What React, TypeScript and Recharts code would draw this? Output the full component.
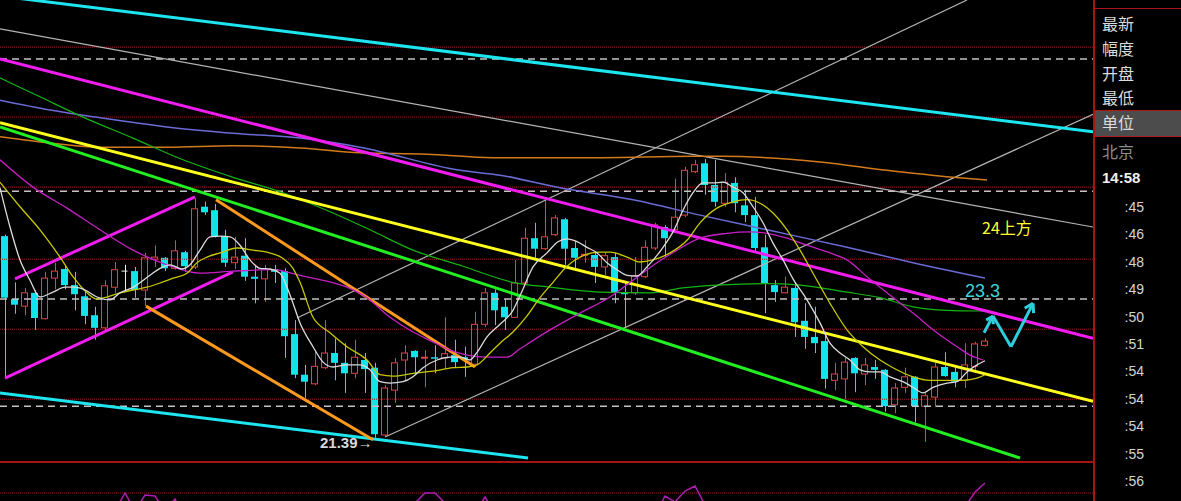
import React from 'react';
import { Bar, ComposedChart, Line, LineChart, ReferenceLine, XAxis, YAxis } from 'recharts';

// daily candles, index 0..98
const opens = [
  24.27, 23.37, 23.27, 23.46, 23.09, 23.67, 23.8, 23.57, 23.41, 23.14,
  22.96, 23.54, 23.77, 23.77, 23.5, 23.94, 23.96, 23.81, 24.04, 23.83,
  24.69, 24.64, 24.27, 23.89, 23.99, 23.69, 23.66, 23.8, 23.77, 22.87,
  22.29, 22.16, 22.39, 22.6, 22.46, 22.31, 22.5, 22.39, 21.43, 22.07,
  22.5, 22.63, 22.53, 22.54, 22.53, 22.57, 22.54, 22.44, 23.01, 23.46,
  23.26, 23.11, 23.6, 24.24, 24.09, 24.29, 24.51, 24.1, 24.0, 24.0,
  23.83, 23.97, 23.47, 23.46, 23.69, 24.1, 24.4, 24.36, 24.57, 25.19,
  25.31, 25.0, 24.74, 25.03, 24.71, 24.57, 24.11, 23.57, 23.46, 23.53,
  23.06, 22.83, 22.77, 22.21, 22.23, 22.53, 22.3, 22.4, 22.36, 21.86,
  22.11, 22.26, 21.84, 21.97, 22.4, 22.33, 22.21, 22.41, 22.71
];
const closes = [
  23.39, 23.29, 23.46, 23.1, 23.67, 23.77, 23.57, 23.44, 23.13, 22.96,
  23.56, 23.79, 23.77, 23.5, 23.96, 23.97, 23.81, 24.06, 23.84, 24.66,
  24.61, 24.26, 23.89, 23.97, 23.69, 23.66, 23.8, 23.76, 22.84, 22.29,
  22.19, 22.41, 22.6, 22.46, 22.31, 22.54, 22.37, 21.44, 22.1, 22.46,
  22.6, 22.54, 22.54, 22.53, 22.59, 22.47, 22.5, 23.01, 23.46, 23.21,
  23.11, 23.6, 24.24, 24.09, 24.26, 24.53, 24.09, 23.96, 24.01, 23.83,
  23.99, 23.46, 23.44, 23.7, 24.11, 24.43, 24.24, 24.54, 25.21, 25.29,
  25.0, 24.76, 25.04, 24.74, 24.57, 24.1, 23.6, 23.47, 23.54, 23.04,
  22.83, 22.74, 22.23, 22.3, 22.47, 22.31, 22.43, 22.36, 21.84, 22.1,
  22.26, 21.84, 21.99, 22.4, 22.27, 22.19, 22.43, 22.73, 22.77
];
const highs = [
  24.29, 23.61, 23.53, 23.5, 23.76, 23.89, 23.86, 23.76, 23.5, 23.26,
  23.64, 23.9, 23.86, 23.83, 24.03, 24.14, 23.97, 24.21, 24.06, 24.81,
  24.76, 24.73, 24.36, 24.26, 24.24, 23.86, 23.86, 23.86, 23.81, 23.07,
  22.43, 22.64, 23.07, 22.81, 22.74, 22.79, 22.6, 22.46, 22.14, 22.53,
  22.71, 22.64, 22.64, 22.71, 23.11, 22.79, 22.69, 23.19, 23.53, 23.51,
  23.37, 23.93, 24.39, 24.46, 24.79, 24.57, 24.53, 24.2, 24.21, 24.04,
  24.04, 24.03, 23.6, 23.97, 24.21, 24.46, 24.43, 25.09, 25.26, 25.36,
  25.37, 25.36, 25.17, 25.11, 24.93, 24.83, 24.29, 23.64, 23.69, 23.6,
  23.31, 23.26, 22.9, 22.46, 22.53, 22.54, 22.53, 22.5, 22.37, 22.17,
  22.39, 22.27, 22.03, 22.46, 22.61, 22.4, 22.74, 22.76, 22.81
];
const lows = [
  22.24, 23.16, 23.14, 22.93, 23.08, 23.51, 23.51, 23.21, 23.01, 22.79,
  22.93, 23.46, 23.5, 23.39, 23.27, 23.83, 23.77, 23.79, 23.76, 23.8,
  24.57, 24.25, 23.83, 23.8, 23.63, 23.31, 23.33, 23.6, 22.53, 22.24,
  21.96, 22.14, 22.37, 22.21, 22.03, 22.24, 22.03, 21.39, 21.41, 21.89,
  22.21, 22.29, 22.11, 22.31, 22.37, 22.4, 22.26, 22.4, 22.97, 23.0,
  22.93, 23.1, 23.59, 23.96, 24.07, 24.27, 23.86, 23.79, 23.89, 23.6,
  23.71, 23.31, 22.97, 23.43, 23.67, 24.07, 23.97, 24.33, 24.54, 25.17,
  24.86, 24.69, 24.69, 24.61, 24.47, 24.03, 23.17, 23.33, 23.45, 22.83,
  22.66, 22.6, 22.09, 22.07, 21.94, 22.04, 22.14, 22.23, 21.76, 21.74,
  22.03, 21.61, 21.33, 21.83, 22.26, 22.11, 22.1, 22.36, 22.69
];

// moving averages: [index, price]
const ma5 = [
  [-0.5, 24.96], [0.5, 24.4], [1.5, 23.93], [2.5, 23.64], [3.5, 23.4], [4.8, 23.47], [6, 23.54], [7, 23.54],
  [8, 23.5], [9.2, 23.4], [10.5, 23.36], [11.5, 23.46], [12.7, 23.53], [14.5, 23.71], [15.5, 23.81], [16.5, 23.86],
  [17.7, 23.8], [18.5, 23.86], [19.5, 24.07], [20.5, 24.26], [21.5, 24.27], [22.5, 24.26], [23.5, 24.14], [24.5, 23.93],
  [25.5, 23.81], [26.5, 23.8], [27.5, 23.74], [28.5, 23.43], [29.5, 23.03], [30.8, 22.69], [31.8, 22.47], [32.8, 22.4],
  [34.2, 22.43], [35.5, 22.43], [36.5, 22.36], [37.5, 22.19], [38.5, 22.17], [39.8, 22.19], [40.8, 22.26], [41.8, 22.39],
  [43.2, 22.5], [44.5, 22.54], [45.5, 22.54], [46.5, 22.5], [47.2, 22.61], [48.2, 22.83], [49.5, 23.01], [50.8, 23.21],
  [51.6, 23.45], [52.8, 23.83], [54.2, 24.03], [55.3, 24.19], [56.2, 24.23], [57.2, 24.19], [58.2, 24.11], [59.2, 24.03],
  [60.2, 23.89], [61.2, 23.79], [62.2, 23.71], [63.2, 23.7], [64.2, 23.83], [65.8, 24.11], [66.8, 24.33], [67.8, 24.64],
  [68.8, 24.89], [69.8, 25.03], [70.8, 25.03], [71.8, 25.04], [72.8, 24.97], [73.8, 24.89], [74.8, 24.69], [75.8, 24.46],
  [76.8, 24.17], [77.8, 23.93], [78.8, 23.66], [80.2, 23.36], [81.5, 23.03], [82.5, 22.74], [83.5, 22.6], [84.5, 22.5],
  [85.5, 22.36], [86.5, 22.33], [87.5, 22.33], [88.5, 22.26], [89.8, 22.19], [90.8, 22.11], [91.8, 22.03], [92.8, 22.11],
  [94.2, 22.17], [95.2, 22.19], [96.2, 22.33], [97.2, 22.43], [98, 22.49]
];
const ma10 = [
  [-0.5, 25.04], [1.5, 24.69], [3.5, 24.36], [5.5, 23.97], [6.8, 23.69], [8.2, 23.46], [9.2, 23.37], [10.2, 23.4],
  [11.5, 23.46], [12.8, 23.5], [14.2, 23.54], [15.5, 23.6], [16.8, 23.67], [18.2, 23.74], [19.2, 23.89], [20.2, 23.97],
  [21.5, 24.03], [23.2, 24.1], [24.8, 24.07], [26.2, 24.04], [27.7, 23.96], [28.8, 23.81], [29.5, 23.61], [30.8, 23.11],
  [32.5, 22.89], [34.2, 22.69], [36.2, 22.5], [37.5, 22.29], [38.8, 22.27], [40.8, 22.31], [42.8, 22.34], [44.8, 22.39],
  [46.2, 22.4], [47.2, 22.43], [48.5, 22.6], [49.5, 22.74], [50.8, 22.9], [52.2, 23.13], [53.5, 23.39], [54.8, 23.61],
  [56.2, 23.84], [57.5, 23.97], [59.5, 24.04], [60.5, 24.04], [62.2, 23.97], [63.5, 23.9], [64.8, 23.93], [66.5, 24.03],
  [68.2, 24.21], [69.5, 24.46], [71.2, 24.67], [72.8, 24.76], [74.2, 24.79], [75.5, 24.74], [76.8, 24.6], [78.2, 24.36],
  [79.5, 24.07], [80.8, 23.74], [82.5, 23.31], [84.2, 22.93], [85.8, 22.69], [87.5, 22.5], [88.8, 22.39], [90.8, 22.26],
  [92.5, 22.21], [94.2, 22.21], [95.8, 22.21], [97.2, 22.24], [98, 22.29]
];
const ma20 = [
  [-0.5, 25.36], [2.8, 24.97], [6.2, 24.67], [9.5, 24.36], [12.8, 24.07], [16.2, 23.86], [19.5, 23.74], [22.8, 23.77],
  [26.8, 23.79], [29.5, 23.71], [30.8, 23.67], [34.2, 23.54], [36.2, 23.39], [38.5, 23.11], [40.8, 22.9], [42.8, 22.76],
  [44.5, 22.64], [46.2, 22.57], [48.2, 22.54], [50.2, 22.54], [51.5, 22.66], [54.5, 22.93], [57.5, 23.17], [60.5, 23.4],
  [62.8, 23.64], [65.2, 23.89], [67.2, 24.07], [69.5, 24.24], [72.2, 24.31], [74.5, 24.33], [76.2, 24.31], [78.2, 24.24],
  [80.2, 24.14], [82.5, 24.03], [84.2, 23.93], [86.2, 23.69], [88.2, 23.46], [90.8, 23.17], [93.2, 22.89], [95.2, 22.69],
  [96.5, 22.57], [97.8, 22.5]
];
const ma60 = [
  [-0.5, 26.53], [3.5, 26.26], [7.8, 25.97], [12.8, 25.67], [17.8, 25.36], [22.8, 25.11], [27.8, 24.89], [32.8, 24.6],
  [36.5, 24.36], [40.8, 24.07], [45.8, 23.84], [50.8, 23.61], [54.5, 23.54], [59.5, 23.47], [64.5, 23.46], [67.8, 23.53],
  [71.2, 23.57], [76.2, 23.59], [79.5, 23.57], [84.2, 23.47], [87.5, 23.39], [90.8, 23.26], [94.2, 23.21], [97.8, 23.2]
];
const ma120 = [
  [-0.5, 26.21], [4.5, 26.07], [9.5, 25.96], [16.2, 25.83], [22.8, 25.74], [29.5, 25.67], [35.5, 25.54], [45.5, 25.21],
  [49.5, 25.14], [55.5, 24.96], [62.8, 24.79], [69.5, 24.57], [76.2, 24.36], [84.2, 24.11], [90.8, 23.89], [98, 23.67]
];
const ma250 = [
  [-0.5, 25.69], [4.5, 25.6], [9.5, 25.54], [16.2, 25.54], [22.8, 25.56], [29.5, 25.53], [35.5, 25.46], [42.2, 25.44],
  [48.8, 25.39], [58.8, 25.39], [68.8, 25.41], [71.5, 25.41], [81.5, 25.33], [88.2, 25.21], [94.8, 25.11], [98.2, 25.07]
];

// sub-panel indicator (mostly below the visible strip)
const subValues = [
  [0, 55], [11, 62], [12, 80], [13, 62], [14, 78], [15, 77], [16, 62], [17, 74], [18, 55], [41, 70], [42, 80],
  [43, 80], [44, 70], [47, 60], [48, 76], [49, 60], [65, 58], [66, 77], [67, 71], [68, 82], [69, 87], [70, 68],
  [71, 55], [96, 66], [97, 81], [98, 90]
];

// hand-drawn trend lines: [[index, price], [index, price]]
const cyanTop = [[-0.5, 27.7], [108.8, 25.76]];
const cyanBottom = [[-0.5, 22.03], [52.3, 21.1]];
const magentaLong = [[-0.5, 26.8], [108.8, 22.81]];
const yellowLong = [[-0.5, 25.89], [108.8, 21.91]];
const greenLong = [[-0.5, 25.83], [101.5, 21.1]];
const channelTop = [[1, 23.66], [19, 24.83]];
const channelBottom = [[0, 22.24], [22.8, 23.76]];
const orangeUpper = [[21.1, 24.79], [47, 22.4]];
const orangeLower = [[14.1, 23.27], [36.8, 21.36]];
const grayRiseA = [[38, 21.4], [108.8, 26.01]];
const grayRiseB = [[29.2, 23.1], [96.2, 27.643]];
const grayFall = [[-0.5, 27.23], [108.8, 24.4]];
const forecastPath = [[97.9, 22.89], [98.8, 23.13], [100.6, 22.69], [102.8, 23.31]];
const forecastHeads = [
  [[98.8, 23.13], [98.12, 23.07]], [[98.8, 23.13], [98.83, 23.01]],
  [[102.8, 23.31], [101.97, 23.24]], [[102.8, 23.31], [102.86, 23.17]]
];

const dashedLevels = [26.8, 24.91, 23.37, 21.84];
const dottedLevels = [26.97, 25.97, 24.97, 23.94, 22.94, 21.94];

const quoteLabels = ['最新', '幅度', '开盘', '最低', '单位', '北京'];
const tickTimes = [':45', ':46', ':48', ':49', ':50', ':51', ':54', ':54', ':54', ':55', ':56'];

const candleData = opens.map((open, i) => ({ i, open, close: closes[i], high: highs[i], low: lows[i] }));
const pts = (arr: number[][]) => arr.map(([i, v]) => ({ i, v }));

const upColor = '#e8413f';
const downColor = '#12e4ee';
const gridRed = '#9a1c1c';
const xDomain = [-0.5, 108.8];

function Candle(props: any) {
  const { x, y, width, height, payload } = props;
  if (x == null || y == null || !payload) return null;
  const { open, close, high, low } = payload;
  const top = Math.min(y, y + height);
  const span = Math.abs(height);
  const toY = (v: number) => (high === low ? top : top + ((high - v) / (high - low)) * span);
  const cx = Math.round(x + width / 2) + 0.5;
  const bt = Math.min(toY(open), toY(close));
  const bb = Math.max(toY(open), toY(close));
  const left = Math.round(x) + 0.5;
  const w = Math.round(width) - 1;
  if (open === close) {
    return (
      <g stroke="#f0f0f0">
        <line x1={cx} x2={cx} y1={toY(high)} y2={toY(low)} />
        <line x1={left} x2={left + w} y1={bt} y2={bt} />
      </g>
    );
  }
  if (close > open) {
    return (
      <g stroke={upColor}>
        <line x1={cx} x2={cx} y1={toY(high)} y2={bt} />
        <line x1={cx} x2={cx} y1={bb} y2={toY(low)} />
        <rect x={left} y={bt} width={w} height={Math.max(bb - bt, 1)} fill="#000" />
      </g>
    );
  }
  return (
    <g>
      <line x1={cx} x2={cx} y1={toY(high)} y2={toY(low)} stroke={downColor} />
      <rect x={left - 0.5} y={bt} width={w + 1} height={Math.max(bb - bt, 1.5)} fill={downColor} />
    </g>
  );
}

function seg(line: number[][], stroke: string, width: number, key: string) {
  return (
    <ReferenceLine
      key={key}
      xAxisId="m"
      segment={[{ x: line[0][0], y: line[0][1] }, { x: line[1][0], y: line[1][1] }]}
      stroke={stroke}
      strokeWidth={width}
      ifOverflow="visible"
    />
  );
}

function maLine(data: number[][], stroke: string, width: number) {
  return (
    <Line
      xAxisId="m"
      data={pts(data)}
      dataKey="v"
      type="monotone"
      stroke={stroke}
      strokeWidth={width}
      dot={false}
      activeDot={false}
      isAnimationActive={false}
    />
  );
}

const labelCenters = [23, 48, 73, 97, 122, 151];

export default function App() {
  return (
    <div style={{ position: 'relative', width: 1181, height: 501, background: '#000', overflow: 'hidden' }}>
      <style>{'body{margin:0;background:#000;}'}</style>
      <div style={{ position: 'absolute', left: 0, top: 0 }}>
        <ComposedChart width={1093} height={462} data={candleData} margin={{ top: 0, right: 0, bottom: 0, left: 0 }}>
          <XAxis xAxisId="c" dataKey="i" type="number" domain={xDomain} hide allowDataOverflow />
          <XAxis xAxisId="m" dataKey="i" type="number" domain={xDomain} hide allowDataOverflow />
          <YAxis type="number" domain={[21.043, 27.643]} hide allowDataOverflow />
          {dottedLevels.map((v) => (
            <ReferenceLine key={'d' + v} xAxisId="m" y={v} stroke={gridRed} strokeDasharray="1 1" />
          ))}
          {dashedLevels.map((v) => (
            <ReferenceLine key={'g' + v} xAxisId="m" y={v} stroke="#c4c4c4" strokeWidth={1.5} strokeDasharray="7 5" />
          ))}
          {seg(grayFall, '#b4b4b4', 1.2, 'gf')}
          {seg(grayRiseA, '#b4b4b4', 1.2, 'ga')}
          {seg(grayRiseB, '#b4b4b4', 1.2, 'gb')}
          {maLine(ma250, '#d27a1c', 1.5)}
          {maLine(ma120, '#6b6bd6', 1.5)}
          {maLine(ma60, '#14b414', 1.2)}
          {seg(cyanTop, '#1ee6f0', 3, 'ct')}
          {seg(cyanBottom, '#1ee6f0', 3, 'cb')}
          {seg(magentaLong, '#f01cf0', 3, 'ml')}
          {seg(greenLong, '#22ee22', 3, 'gl')}
          {seg(yellowLong, '#ffff1e', 3, 'yl')}
          {seg(channelTop, '#f01cf0', 3, 'pt')}
          {seg(channelBottom, '#f01cf0', 3, 'pb')}
          {seg(orangeUpper, '#ff9a1e', 3, 'ou')}
          {seg(orangeLower, '#ff9a1e', 3, 'ol')}
          <Bar xAxisId="c" dataKey={(d: any) => [d.low, d.high]} barSize={7} shape={<Candle />} isAnimationActive={false} />
          {maLine(ma20, '#c420c4', 1.3)}
          {maLine(ma10, '#c8c800', 1.3)}
          {maLine(ma5, '#dcdcdc', 1.3)}
          {forecastPath.slice(1).map((p, k) => seg([forecastPath[k], p], '#2ccfdc', 3, 'f' + k))}
          {forecastHeads.map((h, k) => seg(h, '#2ccfdc', 3, 'h' + k))}
        </ComposedChart>
      </div>
      <div style={{ position: 'absolute', left: 0, top: 463 }}>
        <LineChart width={1093} height={38} data={pts(subValues)} margin={{ top: 0, right: 0, bottom: 0, left: 0 }}>
          <XAxis dataKey="i" type="number" domain={xDomain} hide allowDataOverflow />
          <YAxis type="number" domain={[72, 110]} hide allowDataOverflow />
          <ReferenceLine y={80} stroke={gridRed} strokeDasharray="1 1" />
          <Line dataKey="v" type="linear" stroke="#b01cb0" strokeWidth={1.5} dot={false} activeDot={false} isAnimationActive={false} />
        </LineChart>
      </div>

      {/* annotations */}
      <div style={{ position: 'absolute', left: 982, top: 219, color: '#ffff30', fontSize: 16, lineHeight: '16px', fontFamily: '"Noto Sans CJK SC", sans-serif' }}>
        24上方
      </div>
      <div style={{ position: 'absolute', left: 965, top: 282, color: '#3ed6d6', fontSize: 18, lineHeight: '18px', fontFamily: '"Liberation Sans", Arial, sans-serif' }}>
        23.3
      </div>
      <div style={{ position: 'absolute', left: 320, top: 435, color: '#d8d8d8', fontSize: 15, lineHeight: '15px', fontWeight: 700, fontFamily: '"Liberation Sans", Arial, sans-serif' }}>
        21.39→
      </div>

      {/* frame */}
      <div style={{ position: 'absolute', left: 0, top: 461, width: 1095, height: 2, background: '#a81414' }} />
      <div style={{ position: 'absolute', left: 1093, top: 0, width: 2, height: 501, background: '#a81414' }} />
      <div style={{ position: 'absolute', left: 1093, top: 8, width: 88, height: 1, background: '#a81414' }} />
      <div style={{ position: 'absolute', left: 1095, top: 110, width: 86, height: 25, background: '#4c4c4c', borderTop: '1px solid #b01818', borderBottom: '1px solid #b01818' }} />

      {/* side panel */}
      {quoteLabels.map((t, k) => (
        <div
          key={t}
          style={{
            position: 'absolute', left: 1102, top: labelCenters[k] - 9, fontSize: 16, lineHeight: '18px',
            color: t === '北京' ? '#8c8c8c' : '#dcdcdc', fontFamily: '"Noto Sans CJK SC", sans-serif'
          }}
        >
          {t}
        </div>
      ))}
      <div style={{ position: 'absolute', left: 1102, top: 170, fontSize: 15, lineHeight: '16px', fontWeight: 700, color: '#f0f0f0', fontFamily: '"Liberation Sans", Arial, sans-serif' }}>
        14:58
      </div>
      {tickTimes.map((t, k) => (
        <div
          key={k}
          style={{
            position: 'absolute', right: 1181 - 1144, top: 207 + k * 27.4 - 8, fontSize: 14, lineHeight: '16px',
            color: '#d4d4d4', fontFamily: '"Liberation Sans", Arial, sans-serif'
          }}
        >
          {t}
        </div>
      ))}
    </div>
  );
}
